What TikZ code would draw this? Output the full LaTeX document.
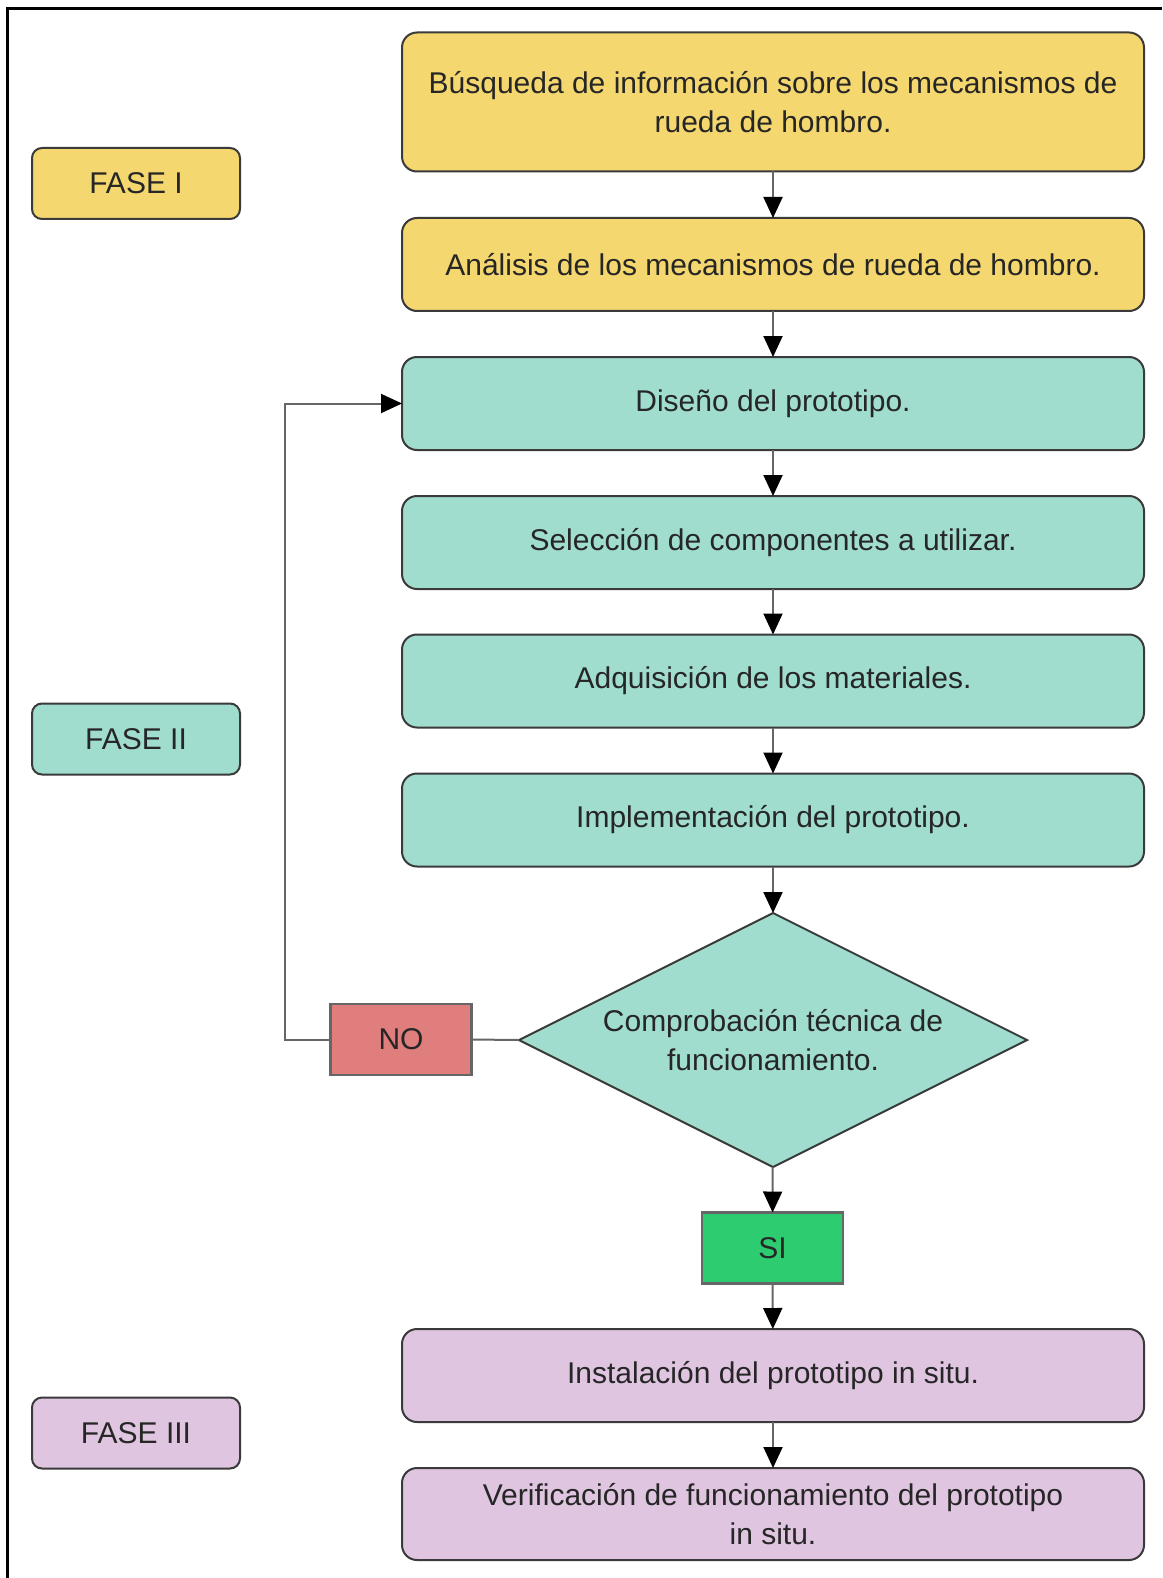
\documentclass[tikz,border=0pt]{standalone}
\usepackage{fontspec}
\setmainfont{Liberation Sans}
\usetikzlibrary{arrows.meta,shapes.geometric}
\definecolor{amarillo}{HTML}{F4D76E}
\definecolor{turquesa}{HTML}{A0DDCF}
\definecolor{rojo}{HTML}{E07D7D}
\definecolor{verde}{HTML}{2ECC71}
\definecolor{lila}{HTML}{DFC5E0}
\definecolor{borde}{HTML}{3A3A3A}
\definecolor{linea}{HTML}{666666}

\begin{document}
\begin{tikzpicture}[x=1pt, y=-1pt,
    every node/.style={font=\fontsize{30}{39}\selectfont, text=black!85, align=center, inner sep=0pt, outer sep=0pt},
    caja/.style={draw=borde, line width=2pt, rounded corners=15pt, minimum width=742pt, minimum height=93pt},
    fase/.style={draw=borde, line width=2pt, rounded corners=10pt, minimum width=208pt, minimum height=71pt},
    cuadro/.style={draw=linea, line width=2.5pt, minimum width=141pt, minimum height=71pt},
    flecha/.style={draw=linea, line width=2pt, -{Triangle[length=21pt,width=19pt,color=black]}},
    union/.style={draw=linea, line width=2pt}]
    \useasboundingbox (0,0) rectangle (1162,1578);
    \draw[line width=3pt] (7,1578) |- (1162,9);

    \node[fase, fill=amarillo] (fase1) at (136,183.5) {FASE I};
    \node[fase, fill=turquesa] (fase2) at (136,739) {FASE II};
    \node[fase, fill=lila] (fase3) at (136,1433) {FASE III};

    \node[caja, fill=amarillo, minimum height=139pt] (busqueda) at (773,102) {B\'usqueda de informaci\'on sobre los mecanismos de\\rueda de hombro.};
    \node[caja, fill=amarillo] (analisis) at (773,264.5) {An\'alisis de los mecanismos de rueda de hombro.};
    \node[caja, fill=turquesa] (diseno) at (773,403.5) {Dise\~no del prototipo.};
    \node[caja, fill=turquesa] (seleccion) at (773,542.5) {Selecci\'on de componentes a utilizar.};
    \node[caja, fill=turquesa] (adquisicion) at (773,681) {Adquisici\'on de los materiales.};
    \node[caja, fill=turquesa] (implementacion) at (773,820) {Implementaci\'on del prototipo.};
    \node[diamond, shape aspect=2, draw=borde, line width=2pt, fill=turquesa, minimum width=508pt, minimum height=254pt] (comprobacion) at (773,1040) {Comprobaci\'on t\'ecnica de\\funcionamiento.};
    \node[cuadro, fill=rojo] (no) at (401,1039.5) {NO};
    \node[cuadro, fill=verde] (si) at (772.5,1248) {SI};
    \node[caja, fill=lila] (instalacion) at (773,1375.5) {Instalaci\'on del prototipo in situ.};
    \node[caja, fill=lila, minimum height=92pt] (verificacion) at (773,1514) {Verificaci\'on de funcionamiento del prototipo\\in situ.};

    \draw[flecha] (busqueda) -- (analisis);
    \draw[flecha] (analisis) -- (diseno);
    \draw[flecha] (diseno) -- (seleccion);
    \draw[flecha] (seleccion) -- (adquisicion);
    \draw[flecha] (adquisicion) -- (implementacion);
    \draw[flecha] (implementacion) -- (comprobacion);
    \draw[flecha] (comprobacion) -- (si);
    \draw[flecha] (si) -- (instalacion);
    \draw[flecha] (instalacion) -- (verificacion);
    \draw[union] (comprobacion.west) -- (no.east);
    \draw[flecha] (no.west) -- (285,1039.5) |- (diseno.west);
\end{tikzpicture}
\end{document}
